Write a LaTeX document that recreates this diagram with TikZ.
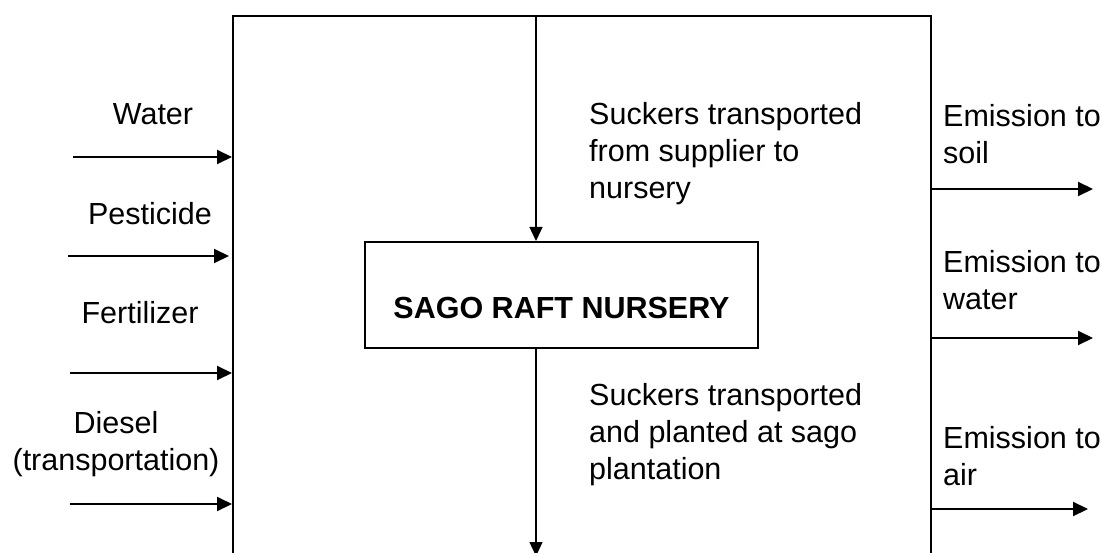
\documentclass[tikz,border=0pt]{standalone}
\usepackage{fontspec}
\setmainfont{Liberation Sans}
\usetikzlibrary{arrows.meta}
\tikzset{
  lbl/.style={inner sep=0pt, font=\fontsize{30.5pt}{37pt}\selectfont},
  arr/.style={line width=2pt, -{Triangle[length=15pt,width=14pt]}},
  varr/.style={line width=1.3pt, -{Triangle[length=14pt,width=13pt]}},
  boxline/.style={draw, line width=2pt},
}
\begin{document}
\begin{tikzpicture}[x=1pt,y=-1pt]
\useasboundingbox (0,0) rectangle (1102,553);
\clip (0,0) rectangle (1102,553);
\fill[white] (0,0) rectangle (1102,553);
% main process box (open at bottom: extends past the picture)
\node[boxline, anchor=north west, minimum width=698pt, minimum height=620pt, inner sep=0pt] (proc) at (232,15) {};
% nursery box
\node[boxline, minimum width=393pt, minimum height=106pt, inner sep=0pt,
      font=\bfseries\fontsize{30.5pt}{37pt}\selectfont, text height=46pt, text depth=0pt] (nur) at (561.5,295) {SAGO RAFT NURSERY};
% vertical flows
\coordinate (vtop) at (536,15);
\coordinate (vbot) at (536,556);
\draw[varr] (vtop) -- (vtop |- nur.north);
\draw[varr] (vbot |- nur.south) -- (vbot);
% centre texts (base anchor = last line's baseline)
\node[lbl, anchor=base west, align=left] (tin) at (589,199) {Suckers transported\\from supplier to\\nursery};
\node[lbl, anchor=base west, align=left] (tout) at (589,479) {Suckers transported\\and planted at sago\\plantation};
% inputs
\coordinate (iw) at (73,157);
\coordinate (ip) at (68,256);
\coordinate (if) at (70,373);
\coordinate (id) at (70,504);
\draw[arr] (iw) -- (iw -| proc.west);
\draw[arr] (ip) -- ([xshift=-3pt]ip -| proc.west);
\draw[arr] (if) -- (if -| proc.west);
\draw[arr] (id) -- (id -| proc.west);
\node[lbl, anchor=base] (lw) at (153,125) {Water};
\node[lbl, anchor=base] (lp) at (150,225) {Pesticide};
\node[lbl, anchor=base] (lf) at (140,323) {Fertilizer};
\node[lbl, anchor=base, align=center] (ld) at (116,470) {Diesel\\(transportation)};
% outputs
\coordinate (os) at (1093,189);
\coordinate (ow) at (1093,338);
\coordinate (oa) at (1088,509);
\draw[arr] (os -| proc.east) -- (os);
\draw[arr] (ow -| proc.east) -- (ow);
\draw[arr] ([xshift=-2pt]oa -| proc.east) -- (oa);
\node[lbl, anchor=base west, align=left] (es) at (943,164) {Emission to\\soil};
\node[lbl, anchor=base west, align=left] (ew) at (943,309) {Emission to\\water};
\node[lbl, anchor=base west, align=left] (ea) at (943,485) {Emission to\\air};
\end{tikzpicture}
\end{document}
